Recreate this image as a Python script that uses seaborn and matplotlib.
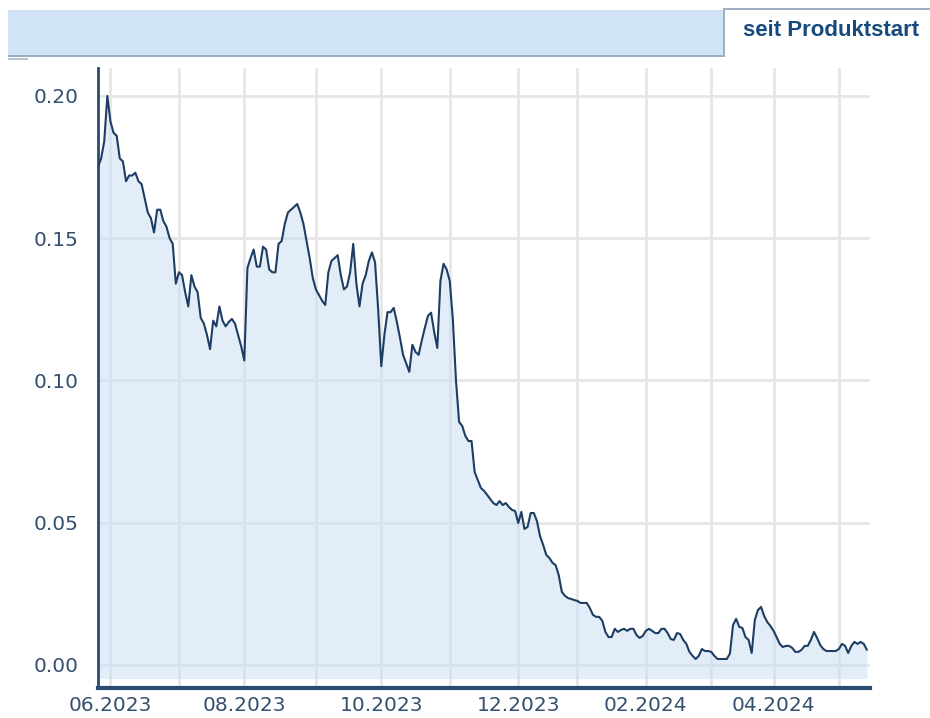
import numpy as np
import pandas as pd
import matplotlib.pyplot as plt
import matplotlib.patches as mpatches
import seaborn as sns

# daily closing prices (trading days from 26.05.2023)
price = [
    0.175, 0.178, 0.184, 0.200, 0.191, 0.187, 0.186, 0.178, 0.177, 0.170,
    0.172, 0.172, 0.173, 0.170, 0.169, 0.164, 0.159, 0.157, 0.152, 0.160,
    0.160, 0.156, 0.154, 0.150, 0.148, 0.134, 0.138, 0.137, 0.131, 0.126,
    0.137, 0.133, 0.131, 0.122, 0.120, 0.116, 0.111, 0.121, 0.119, 0.126,
    0.121, 0.119, 0.1205, 0.1216, 0.120, 0.116, 0.112, 0.107, 0.1395, 0.143,
    0.146, 0.140, 0.140, 0.147, 0.146, 0.139, 0.138, 0.138, 0.148, 0.149,
    0.155, 0.159, 0.160, 0.161, 0.162, 0.159, 0.155, 0.149, 0.143, 0.136,
    0.132, 0.130, 0.128, 0.1265, 0.138, 0.142, 0.143, 0.144, 0.137, 0.132,
    0.133, 0.138, 0.148, 0.134, 0.126, 0.134, 0.137, 0.142, 0.145, 0.1415,
    0.125, 0.105, 0.116, 0.124, 0.124, 0.1255, 0.1206, 0.115, 0.109, 0.106,
    0.103, 0.1125, 0.110, 0.109, 0.114, 0.1185, 0.1227, 0.1238, 0.117, 0.1114,
    0.135, 0.141, 0.139, 0.135, 0.1213, 0.100, 0.0854, 0.084, 0.0805, 0.0787,
    0.0787, 0.0678, 0.065, 0.0622, 0.0612, 0.0598, 0.0583, 0.0569, 0.0562, 0.0576,
    0.0562, 0.0569, 0.0555, 0.0545, 0.0541, 0.0499, 0.0538, 0.0478, 0.0485, 0.0534,
    0.0534, 0.0506, 0.0453, 0.0422, 0.0387, 0.0376, 0.0359, 0.0351, 0.0316, 0.0257,
    0.0243, 0.0235, 0.0232, 0.0228, 0.0225, 0.0218, 0.0218, 0.0218, 0.020, 0.0176,
    0.0169, 0.0169, 0.0155, 0.0116, 0.0098, 0.0098, 0.0127, 0.0116, 0.0123, 0.0127,
    0.012, 0.0127, 0.0127, 0.0105, 0.0095, 0.0102, 0.012, 0.0127, 0.012, 0.0112,
    0.0112, 0.0127, 0.0127, 0.0112, 0.0091, 0.0088, 0.0112, 0.0109, 0.0088, 0.0074,
    0.0046, 0.0032, 0.0021, 0.0032, 0.0056, 0.0049, 0.0049, 0.0046, 0.0032, 0.0021,
    0.0021, 0.0021, 0.0021, 0.004, 0.014, 0.0162, 0.0134, 0.013, 0.0098, 0.0088,
    0.0042, 0.0158, 0.0193, 0.0204, 0.0172, 0.0151, 0.0137, 0.012, 0.0098, 0.0074,
    0.0063, 0.0067, 0.0067, 0.006, 0.0046, 0.0046, 0.0053, 0.0067, 0.0067, 0.0088,
    0.0116, 0.0095, 0.007, 0.0056, 0.0049, 0.0049, 0.0049, 0.0049, 0.0056, 0.0074,
    0.0067, 0.0042, 0.0067, 0.0081, 0.0074, 0.0081, 0.0074, 0.0053,
]
holidays = ['2023-12-25', '2023-12-26', '2024-01-01', '2024-03-29', '2024-04-01', '2024-05-01']
y_ticks = [0.00, 0.05, 0.10, 0.15, 0.20]
header_label = 'seit Produktstart'

dates = pd.bdate_range('2023-05-26', periods=len(price), freq='C', holidays=holidays)
df = pd.DataFrame({'date': dates, 'price': price})
df['day'] = np.arange(len(df))

# first trading day of each month -> grid line, every second month labelled
month = df['date'].dt.to_period('M')
firsts = df[month != month.shift()].iloc[1:]
tick_pos = firsts['day'].tolist()
tick_lab = [d.strftime('%m.%Y') if i % 2 == 0 else '' for i, d in enumerate(firsts['date'])]

sns.set_style('white')
plt.rcParams['font.family'] = ['DejaVu Sans']

navy = '#1d3d63'
label_col = '#34506e'

fig = plt.figure(figsize=(9.3, 7.18), dpi=100)
ax = fig.add_axes([98 / 930, 30 / 718, 772 / 930, 620 / 718])

ax.fill_between(df['day'], df['price'], -0.0048, color='#c6ddf3', alpha=0.5, zorder=2, lw=0)
sns.lineplot(data=df, x='day', y='price', ax=ax, color=navy, lw=1.5, zorder=3)

ax.set_xlim(0, 248)
ax.set_ylim(-0.0081, 0.2098)
ax.set_xticks(tick_pos)
ax.set_xticklabels(tick_lab)
ax.set_yticks(y_ticks)
ax.set_yticklabels([f'{v:.2f}' for v in y_ticks])
ax.grid(True, color='#e6e6e6', lw=2, zorder=0)
ax.set_axisbelow(True)
ax.set_xlabel('')
ax.set_ylabel('')
ax.tick_params(axis='both', length=0, labelsize=14.5, colors=label_col)
ax.tick_params(axis='y', pad=14)
ax.tick_params(axis='x', pad=6)

for s in ['top', 'right']:
    ax.spines[s].set_visible(False)
ax.spines['left'].set_color('#2c4b70')
ax.spines['left'].set_linewidth(2)
ax.spines['bottom'].set_color('#2c4b70')
ax.spines['bottom'].set_linewidth(3)

# header bar with tab
fig.patches.append(mpatches.Rectangle((8 / 930, 1 - 55 / 718), 716 / 930, 45 / 718,
                                      transform=fig.transFigure, facecolor='#d0e4f6',
                                      edgecolor='none', zorder=0))
fig.patches.append(mpatches.Rectangle((8 / 930, 1 - 57 / 718), 716 / 930, 2.5 / 718,
                                      transform=fig.transFigure, facecolor='#9eafc2',
                                      edgecolor='none', zorder=1))
fig.patches.append(mpatches.Rectangle((8 / 930, 1 - 60 / 718), 20 / 930, 2 / 718,
                                      transform=fig.transFigure, facecolor='#b7c3d0',
                                      edgecolor='none', zorder=1))
fig.patches.append(mpatches.Rectangle((722.5 / 930, 1 - 57 / 718), 2.5 / 930, 49 / 718,
                                      transform=fig.transFigure, facecolor='#9eafc2',
                                      edgecolor='none', zorder=1))
fig.patches.append(mpatches.Rectangle((722.5 / 930, 1 - 10 / 718), 208 / 930, 2.5 / 718,
                                      transform=fig.transFigure, facecolor='#9eafc2',
                                      edgecolor='none', zorder=1))
fig.text(831 / 930, 1 - 31 / 718, header_label, ha='center', va='center',
         fontsize=16, fontweight='bold', color='#174a7c', family='Liberation Sans')

fig.savefig('out.png', dpi=100)
